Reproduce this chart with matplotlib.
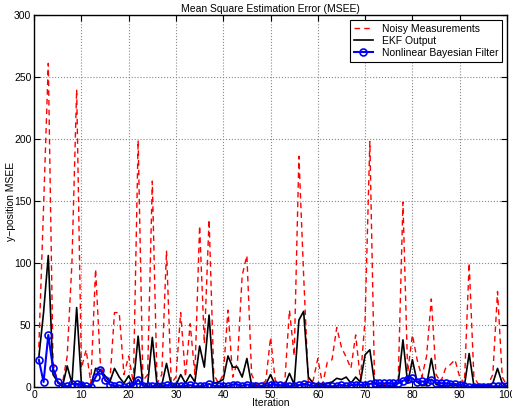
import numpy as np
import matplotlib
matplotlib.use("Agg")
import matplotlib.pyplot as plt

plt.rcParams['font.family'] = ['Liberation Sans', 'DejaVu Sans']

iteration = np.arange(1, 101)

noisy = [32, 145, 261, 20, 3, 3, 25, 100, 240, 15,
         30, 3, 95, 20, 5, 3, 60, 60, 10, 25,
         3, 199, 5, 10, 166, 3, 10, 110, 3, 8,
         60, 8, 51, 10, 130, 35, 135, 10, 3, 10,
         62, 8, 20, 90, 106, 10, 2, 2, 5, 40,
         5, 3, 3, 62, 25, 186, 90, 3, 5, 23,
         2, 20, 22, 48, 32, 24, 15, 42, 6, 55,
         198, 3, 2, 2, 3, 2, 5, 149, 12, 42,
         22, 8, 25, 71, 10, 4, 15, 18, 22, 8,
         3, 100, 8, 2, 2, 2, 10, 77, 8, 1]

ekf = [24, 60, 106, 10, 4, 0.5, 17, 3, 64, 3,
       0.5, 0.5, 15, 14, 9, 4, 15, 8, 3, 9,
       1.5, 41, 1.5, 1.5, 40, 1.5, 1.5, 19, 1.5, 1.5,
       10, 3, 10, 4, 33, 16, 58, 3, 4, 6,
       25, 16, 16, 8, 23, 1.5, 1, 1, 2, 10,
       1.5, 1, 1.5, 11, 2, 54, 61, 8, 3, 1.5,
       1.5, 3, 4, 7, 6, 8, 3, 8, 4, 26,
       30, 3, 1, 1, 1, 1, 3, 38, 3, 22,
       4, 1, 1.5, 23, 2, 1, 1, 1, 1, 1,
       1, 27, 1, 1, 1, 1, 3, 15, 3, 0.5]

nbf = [22, 4, 42, 15, 4, 0.5, 0.5, 2.5, 2.5, 1.3,
       0.5, 0.3, 8, 14, 6, 2, 0.5, 1.3, 0.3, 0.5,
       1, 6, 1, 0.5, 0.5, 1, 0.5, 1.5, 1, 0.5,
       0.5, 1, 1.5, 0.5, 0.5, 1, 2.5, 1, 0.5, 0.5,
       1, 2, 2, 1, 2, 1, 0.5, 0.5, 1, 1.5,
       2, 1.5, 1, 0.5, 1, 1.5, 2.5, 1.5, 1, 0.5,
       0.5, 1, 0.5, 1, 1.5, 1, 1.5, 2, 1.5, 2,
       2.5, 3, 3, 3, 3, 3, 3, 5, 6.5, 7,
       4, 4.5, 4, 6, 3.5, 3, 3, 2.5, 2.5, 1.5,
       1, 0.3, 0.3, 0.3, 0.3, 0.3, 0.5, 0.5, 0.5, 0.5]

fig = plt.figure(figsize=(5.12, 4.08), dpi=100)
ax = fig.add_axes([0.0666, 0.0515, 0.9236, 0.9118])

ax.plot(iteration, noisy, color='red', linestyle=(0, (4, 3)), linewidth=1.0,
        label='Noisy Measurements')
ax.plot(iteration, ekf, color='black', linewidth=1.2, label='EKF Output')
ax.plot(iteration, nbf, color='blue', linewidth=1.5, marker='o', markersize=5,
        markerfacecolor='none', markeredgewidth=1.2,
        label='Nonlinear Bayesian Filter')

ax.set_xlim(0, 100)
ax.set_ylim(0, 300)
ax.set_xticks(np.arange(0, 101, 10))
ax.set_yticks(np.arange(0, 301, 50))
ax.tick_params(direction='in', labelsize=7.5, length=4, top=True, right=True, pad=2)
ax.grid(True, linestyle=':', color='#888888', linewidth=0.8)
for s in ax.spines.values():
    s.set_linewidth(1.0)

ax.set_title('Mean Square Estimation Error (MSEE)', fontsize=7.5, pad=2)
ax.set_xlabel('Iteration', fontsize=7.5, labelpad=-1)
ax.set_ylabel('y\u2212position MSEE', fontsize=7.5)
ax.yaxis.set_label_coords(-0.038, 0.5)

leg = ax.legend(loc='upper right', fontsize=7.5, fancybox=False, framealpha=1,
                edgecolor='black', borderaxespad=0.5, handlelength=1.9,
                borderpad=0.35, labelspacing=0.2)
leg.get_frame().set_linewidth(0.8)

fig.savefig('out.png', dpi=100)
